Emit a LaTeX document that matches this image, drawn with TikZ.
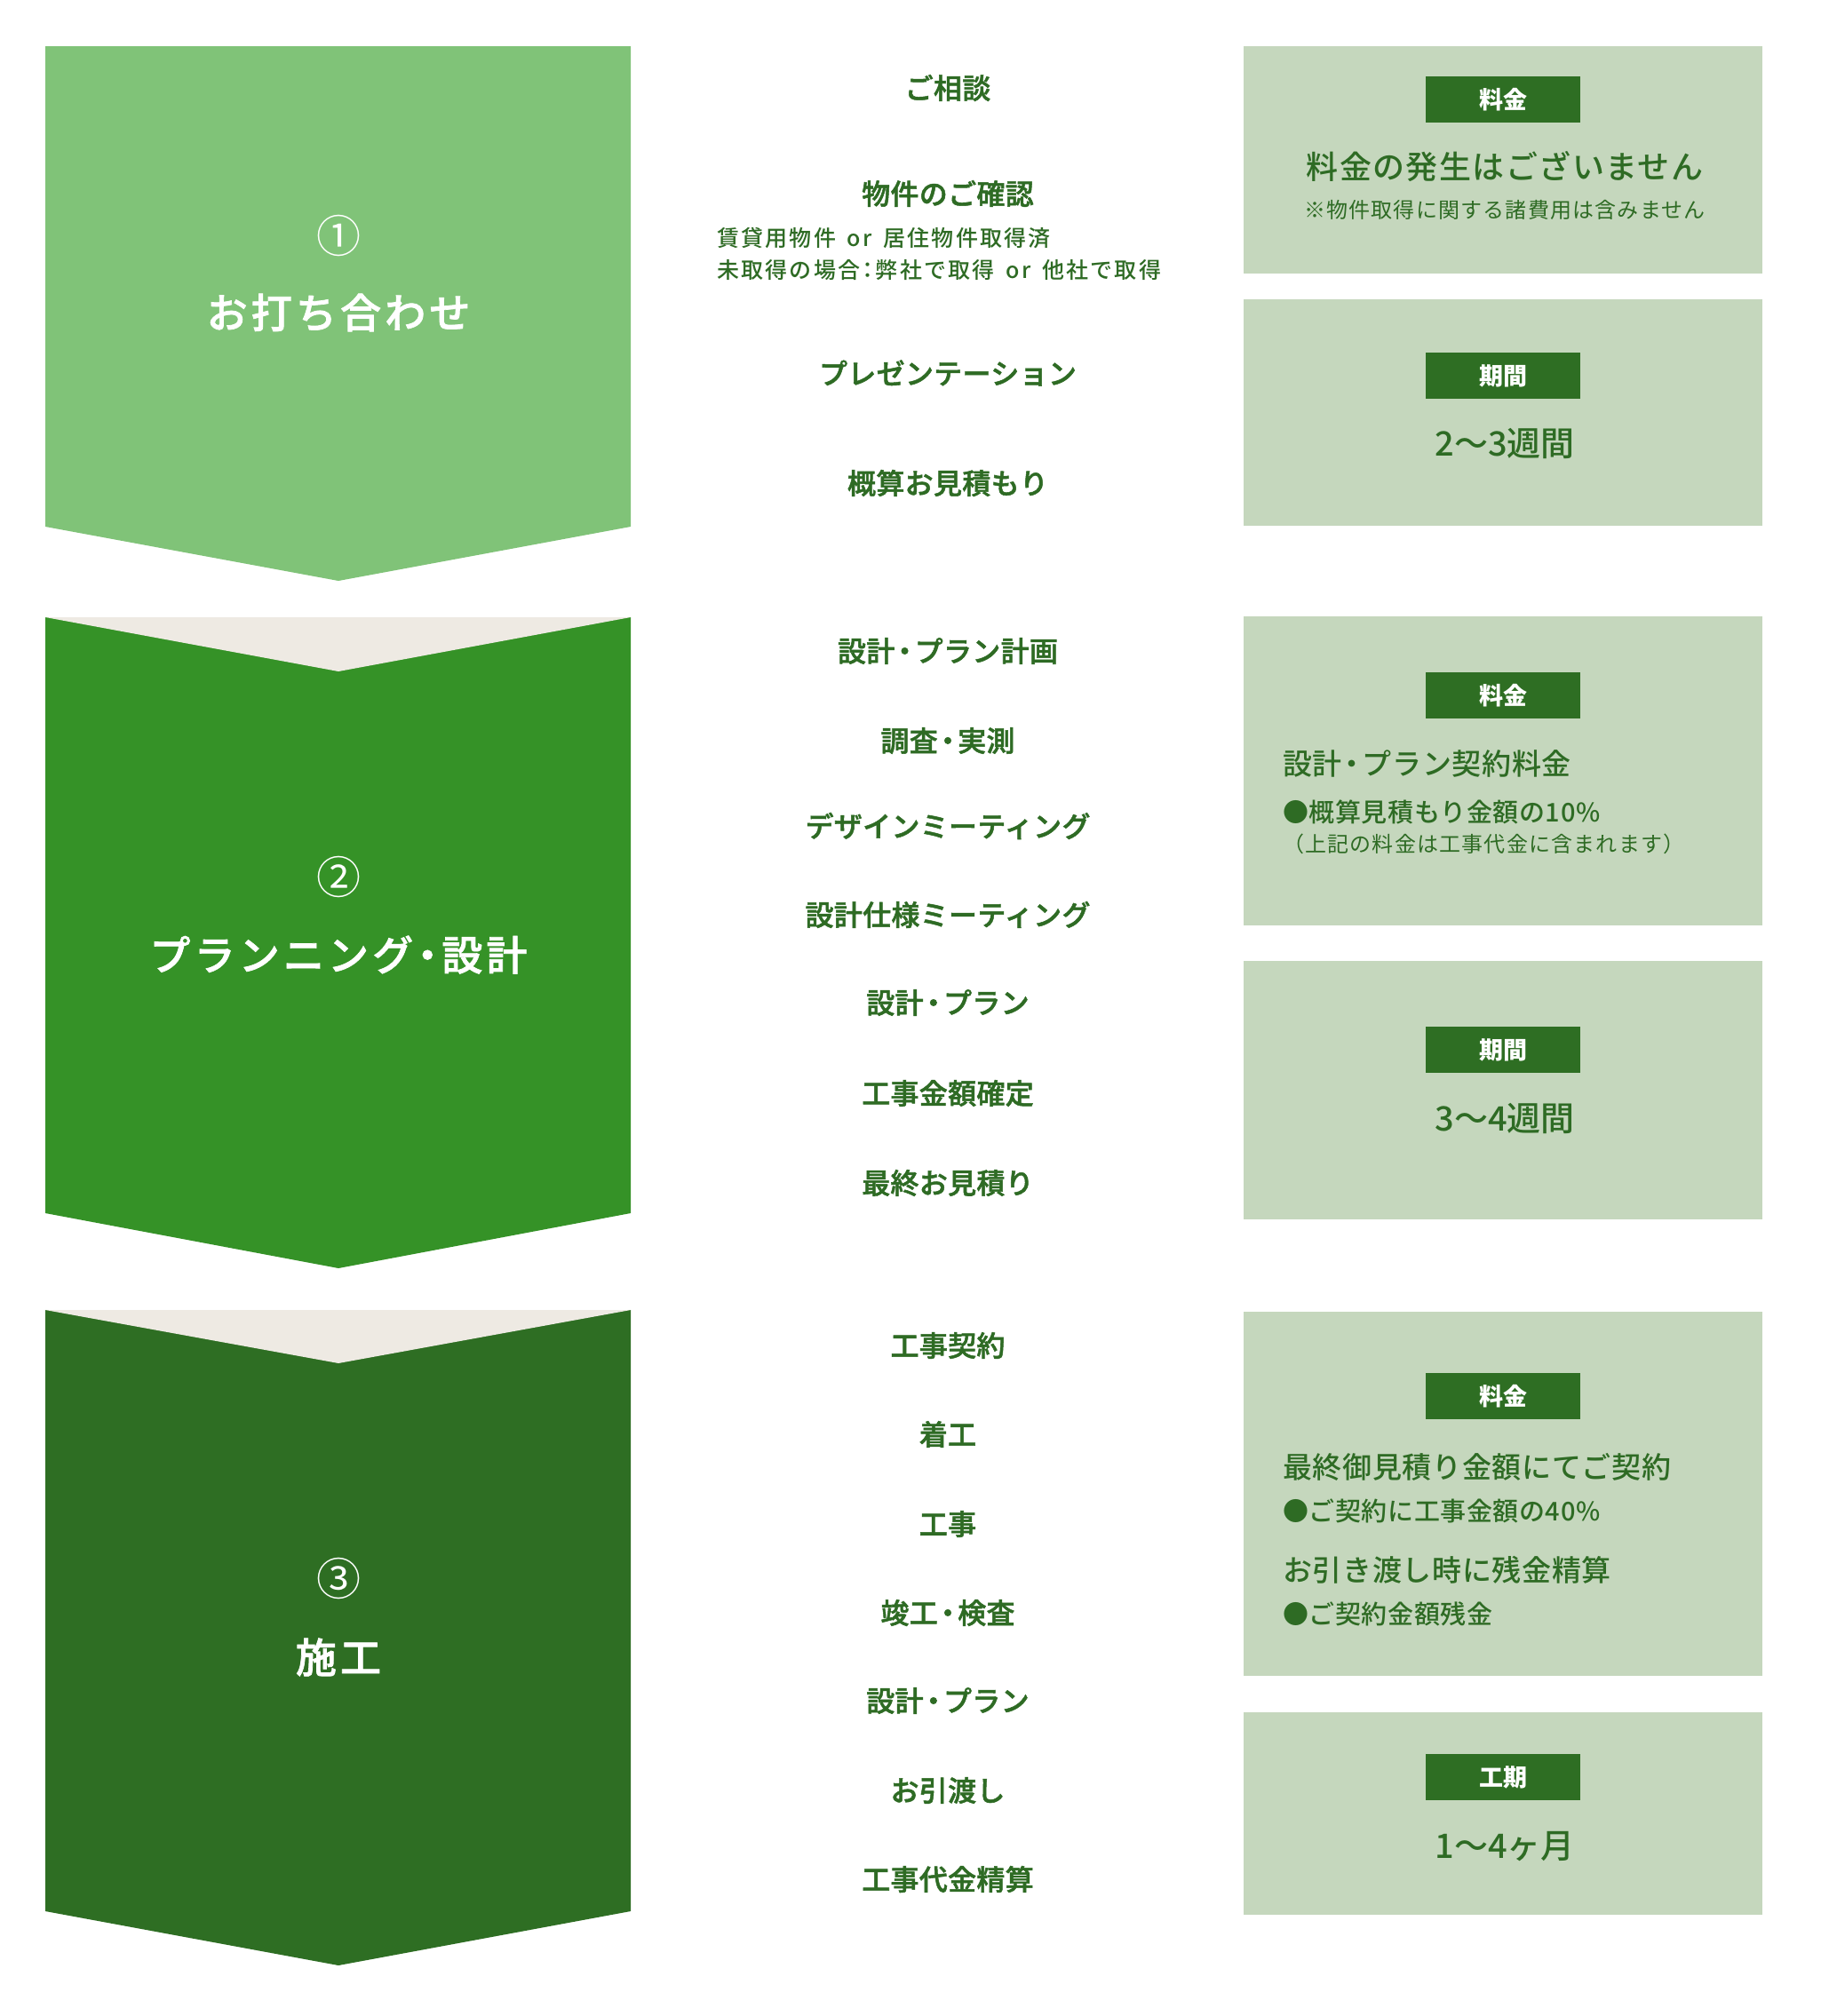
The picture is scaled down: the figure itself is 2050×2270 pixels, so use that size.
\documentclass[tikz,border=0pt]{standalone}
\usepackage{fontspec}
\setmainfont{Noto Sans CJK JP}
\newfontfamily\jpmed{Noto Sans CJK JP Medium}
\newfontfamily\jpsemi{Noto Sans CJK JP Medium}[FakeBold=1.6]
\newfontfamily\jpsub{Noto Sans CJK JP Medium}[LetterSpace=9,WordSpace=1.6]
\usepackage{xcolor}
\usepackage{tikz}

\definecolor{stepone}{HTML}{80C378}
\definecolor{steptwo}{HTML}{359227}
\definecolor{stepthree}{HTML}{2E6E23}
\definecolor{notchbeige}{HTML}{EEEAE3}
\definecolor{infobg}{HTML}{C5D7BD}
\definecolor{tagbg}{HTML}{2E6E23}
\definecolor{txtgreen}{HTML}{2E6B24}

\newcommand{\fsz}[1]{\fontsize{#1}{#1}\selectfont}
\newcommand{\nkg}{\makebox[0.7em]{・}}
\newcommand{\kolon}{\makebox[0.7em]{：}}

\begin{document}
\begin{tikzpicture}[x=1pt,y=-1pt,
    item/.style={text=txtgreen,font=\jpsemi\fsz{32}\addfontfeatures{LetterSpace=1},inner sep=0pt},
    subitem/.style={text=txtgreen,font=\jpsub\fsz{25},inner sep=0pt,anchor=west},
    steptitle/.style={text=white,font=\jpsemi\fsz{46}\addfontfeatures{LetterSpace=9},inner sep=0pt},
    stepnum/.style={text=white,font=\fsz{50},inner sep=0pt},
    tag/.style={fill=tagbg,text=white,font=\fsz{27}\bfseries,minimum width=174pt,minimum height=52pt,inner sep=0pt},
    bigtxt/.style={text=txtgreen,font=\jpmed\fsz{36}\addfontfeatures{LetterSpace=4},inner sep=0pt},
    termtxt/.style={text=txtgreen,font=\jpmed\fsz{38},inner sep=0pt},
    infotxt/.style={text=txtgreen,font=\jpmed\fsz{33}\addfontfeatures{LetterSpace=2},inner sep=0pt,anchor=west},
    bullettxt/.style={text=txtgreen,font=\jpmed\fsz{29}\addfontfeatures{LetterSpace=2},inner sep=0pt,anchor=west},
    notetxt/.style={text=txtgreen,font=\fsz{24}\addfontfeatures{LetterSpace=5},inner sep=0pt}]
        % Background
        \fill[white] (0,0) rectangle (2050,2270);
        \useasboundingbox (0,0) rectangle (2050,2270);

        % Step 1 chevron
        \fill[stepone] (51,52) -- (710,52) -- (710,593) -- (381,654) -- (51,593) -- cycle;
        \node[stepnum] (num1) at (381,265) {①};
        \node[steptitle] (title1) at (381,352) {お打ち合わせ};

        % Step 2 chevron
        \fill[steptwo] (51,695) -- (710,695) -- (710,1366) -- (381,1428) -- (51,1366) -- cycle;
        \fill[notchbeige] (51,695) -- (710,695) -- (381,756) -- cycle;
        \node[stepnum] (num2) at (381,987) {②};
        \node[steptitle] (title2) at (381,1075) {プランニング\nkg 設計};

        % Step 3 chevron
        \fill[stepthree] (51,1475) -- (710,1475) -- (710,2152) -- (381,2213) -- (51,2152) -- cycle;
        \fill[notchbeige] (51,1475) -- (710,1475) -- (381,1535) -- cycle;
        \node[stepnum] (num3) at (381,1777) {③};
        \node[steptitle] (title3) at (381,1866) {施工};

        % Step 1 items
        \node[item] (soudan) at (1067,99) {ご相談};
        \node[item] (kakunin) at (1067,218) {物件のご確認};
        \node[subitem] (kakuninA) at (807,268) {賃貸用物件 or 居住物件取得済};
        \node[subitem] (kakuninB) at (807,304) {未取得の場合\kolon 弊社で取得 or 他社で取得};
        \node[item] (presen) at (1067,420) {プレゼンテーション};
        \node[item] (gaisan) at (1067,544) {概算お見積もり};

        % Step 2 items
        \node[item] (keikaku) at (1067,733) {設計\nkg プラン計画};
        \node[item] (chousa) at (1067,834) {調査\nkg 実測};
        \node[item] (design) at (1067,930) {デザインミーティング};
        \node[item] (shiyou) at (1067,1030) {設計仕様ミーティング};
        \node[item] (planA) at (1067,1129) {設計\nkg プラン};
        \node[item] (kakutei) at (1067,1231) {工事金額確定};
        \node[item] (saishu) at (1067,1332) {最終お見積り};

        % Step 3 items
        \node[item] (keiyaku) at (1067,1515) {工事契約};
        \node[item] (chakkou) at (1067,1615) {着工};
        \node[item] (kouji) at (1067,1716) {工事};
        \node[item] (shunkou) at (1067,1816) {竣工\nkg 検査};
        \node[item] (planB) at (1067,1915) {設計\nkg プラン};
        \node[item] (hikiwatashi) at (1067,2016) {お引渡し};
        \node[item] (seisan) at (1067,2116) {工事代金精算};

        % Info boxes, step 1
        \fill[infobg] (1400,52) rectangle (1984,308);
        \node[tag] (fee1) at (1692,112) {料金};
        \node[bigtxt] (fee1txt) at (1694,188) {料金の発生はございません};
        \node[notetxt] (fee1note) at (1694,236) {※物件取得に関する諸費用は含みません};
        \fill[infobg] (1400,337) rectangle (1984,592);
        \node[tag] (term1) at (1692,423) {期間};
        \node[termtxt] (term1txt) at (1694,499) {2〜3週間};

        % Info boxes, step 2
        \fill[infobg] (1400,694) rectangle (1984,1042);
        \node[tag] (fee2) at (1692,783) {料金};
        \node[infotxt] (fee2txt) at (1444,860) {設計\nkg プラン契約料金};
        \node[bullettxt] (fee2pt) at (1444,914) {●概算見積もり金額の10\%};
        \node[notetxt,anchor=west] (fee2note) at (1444,950) {（上記の料金は工事代金に含まれます）};
        \fill[infobg] (1400,1082) rectangle (1984,1373);
        \node[tag] (term2) at (1692,1182) {期間};
        \node[termtxt] (term2txt) at (1694,1259) {3〜4週間};

        % Info boxes, step 3
        \fill[infobg] (1400,1477) rectangle (1984,1887);
        \node[tag] (fee3) at (1692,1572) {料金};
        \node[infotxt] (fee3txt) at (1444,1652) {最終御見積り金額にてご契約};
        \node[bullettxt] (fee3pt) at (1444,1701) {●ご契約に工事金額の40\%};
        \node[infotxt] (fee3txtB) at (1444,1768) {お引き渡し時に残金精算};
        \node[bullettxt] (fee3ptB) at (1444,1817) {●ご契約金額残金};
        \fill[infobg] (1400,1928) rectangle (1984,2156);
        \node[tag] (term3) at (1692,2001) {工期};
        \node[termtxt] (term3txt) at (1694,2079) {1〜4ヶ月};
\end{tikzpicture}
\end{document}
